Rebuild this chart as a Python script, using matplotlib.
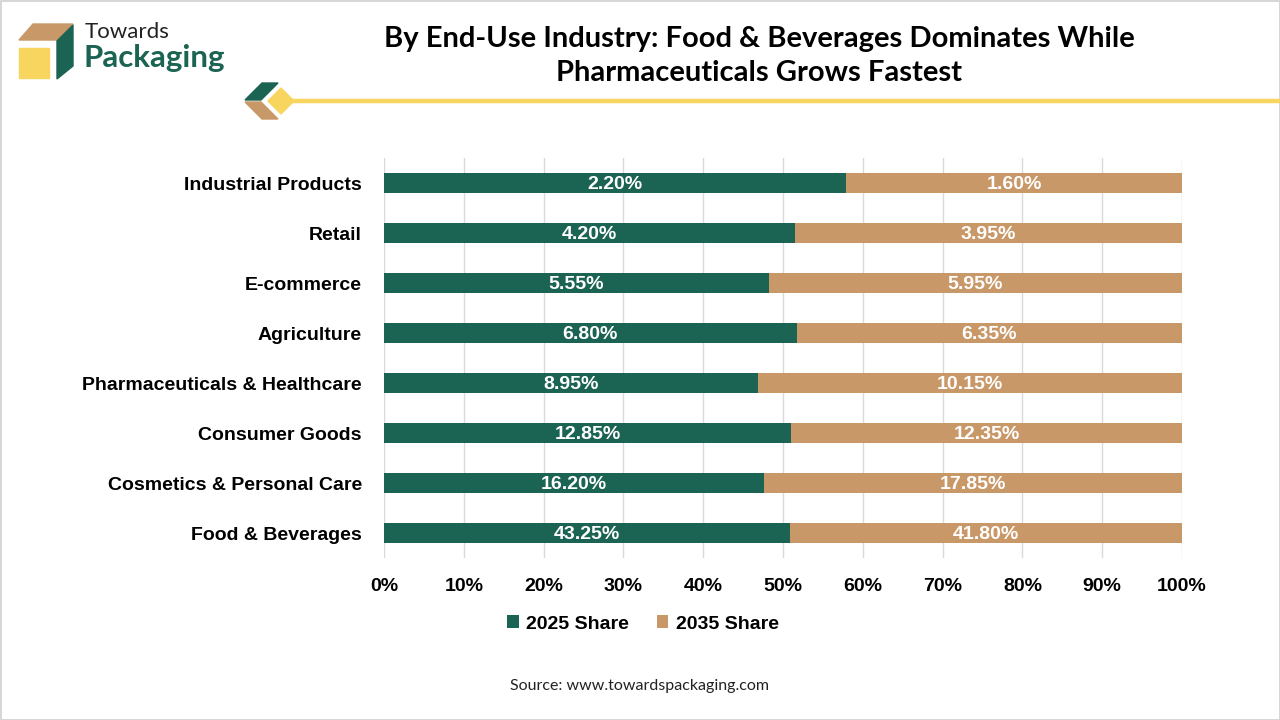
import matplotlib
matplotlib.use("Agg")
import matplotlib.pyplot as plt
from matplotlib.patches import Polygon, Rectangle
import numpy as np

# data
categories = ["Food & Beverages", "Cosmetics & Personal Care", "Consumer Goods",
              "Pharmaceuticals & Healthcare", "Agriculture", "E-commerce",
              "Retail", "Industrial Products"]
share_2025 = [43.25, 16.20, 12.85, 8.95, 6.80, 5.55, 4.20, 2.20]
share_2035 = [41.80, 17.85, 12.35, 10.15, 6.35, 5.95, 3.95, 1.60]
xticks = [0, 10, 20, 30, 40, 50, 60, 70, 80, 90, 100]

green = "#1b6353"
tan = "#c99868"
yellow = "#f8d55e"

plt.rcParams['font.family'] = ['Liberation Sans', 'DejaVu Sans']

fig = plt.figure(figsize=(12.8, 7.2), dpi=100)

# overlay for decorations, pixel coords
deco = fig.add_axes([0, 0, 1, 1])
deco.set_xlim(0, 1280)
deco.set_ylim(720, 0)
deco.axis('off')
deco.add_patch(Rectangle((0.5, 0.5), 1279, 719, fill=False, ec="#d0d0d0", lw=1.2))

# logo
deco.add_patch(Polygon([(19, 40), (33, 24), (73, 24), (58, 40)], closed=True, color=tan))
deco.add_patch(Rectangle((19, 48), 30, 30, color=yellow))
deco.add_patch(Polygon([(57, 41), (73, 25), (73, 66), (57, 79)], closed=True, color=green))
deco.text(85, 32, "Towards", fontsize=16, family=['Lato', 'DejaVu Sans'], color="#222222", va='center')
deco.text(84, 58, "Packaging", fontsize=22.5, family=['Lato', 'DejaVu Sans'], fontweight='bold',
          color=green, va='center')

# title decoration
deco.add_patch(Polygon([(262, 83), (278, 83), (261, 100), (245, 100)], closed=True, color=green))
deco.add_patch(Polygon([(245, 102), (261, 102), (278, 119), (262, 119)], closed=True, color=tan))
deco.add_patch(Polygon([(281, 88), (294, 101), (281, 114), (268, 101)], closed=True, color=yellow))
deco.plot([290, 1280], [101, 101], color=yellow, lw=3.2, solid_capstyle='butt')

deco.text(759, 56, "By End-Use Industry: Food & Beverages Dominates While\nPharmaceuticals Grows Fastest",
          ha='center', va='center', fontsize=21, fontweight='bold', family=['Lato', 'DejaVu Sans'],
          color="black", linespacing=1.42)

deco.text(640, 686, "Source: www.towardspackaging.com", ha='center', va='center', fontsize=11.5,
          family=['Lato', 'DejaVu Sans'], color="#222222")

# chart
ax = fig.add_axes([384 / 1280, 1 - 558 / 720, (1182 - 384) / 1280, 400 / 720])
ax.set_zorder(2)
ax.patch.set_alpha(0)

a = np.array(share_2025)
b = np.array(share_2035)
p25 = a / (a + b) * 100
p35 = b / (a + b) * 100
y = np.arange(len(categories))

ax.barh(y, p25, height=0.4, color=green, label="2025 Share", zorder=3)
ax.barh(y, p35, left=p25, height=0.4, color=tan, label="2035 Share", zorder=3)

for i in range(len(categories)):
    ax.text(p25[i] / 2, y[i] - 0.03, f"{share_2025[i]:.2f}%", ha='center', va='center',
            color='white', fontsize=14, fontweight='bold', zorder=4)
    ax.text(p25[i] + p35[i] / 2, y[i] - 0.03, f"{share_2035[i]:.2f}%", ha='center', va='center',
            color='white', fontsize=14, fontweight='bold', zorder=4)

ax.set_xlim(0, 100)
ax.set_ylim(-0.5, len(categories) - 0.5)
ax.set_xticks(xticks)
ax.set_xticklabels([f"{t}%" for t in xticks], fontsize=14, fontweight='bold')
ax.set_yticks(y)
ax.set_yticklabels(categories, fontsize=14, fontweight='bold')
ax.tick_params(length=0)
ax.tick_params(axis='y', pad=16)
ax.tick_params(axis='x', pad=14.5)
ax.grid(axis='x', color="#d9d9d9", lw=1, zorder=0)
for s in ax.spines.values():
    s.set_visible(False)

handles, labels = ax.get_legend_handles_labels()
fig.legend(handles, labels, loc='center', bbox_to_anchor=(643 / 1280, 1 - 624 / 720), ncol=2,
           frameon=False, prop={'size': 14, 'weight': 'bold'}, handlelength=0.6, handleheight=0.6,
           handletextpad=0.4, columnspacing=1.4)

fig.savefig("out.png", dpi=100)
